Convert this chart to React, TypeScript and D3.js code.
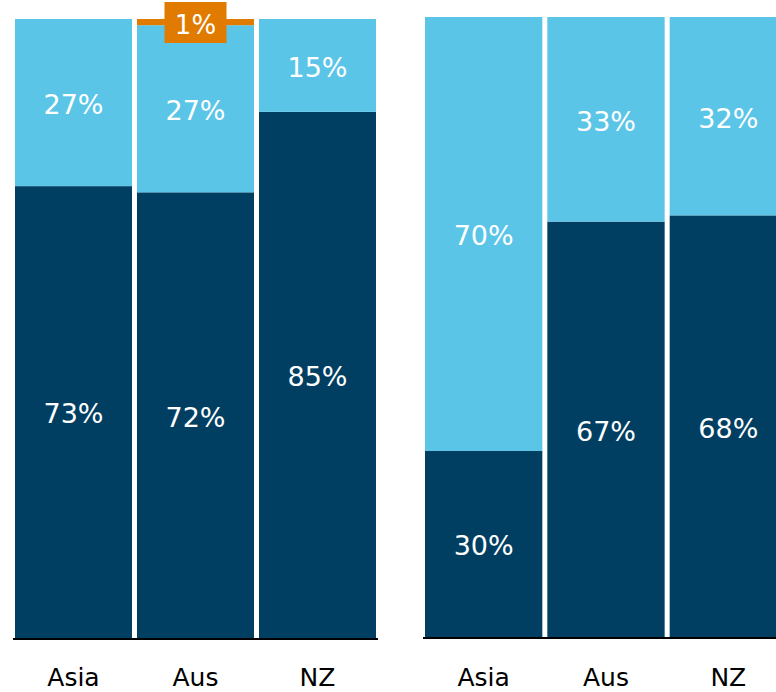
import * as d3 from "d3";

const categories = ["Asia", "Aus", "NZ"];
const leftDark = [73, 72, 85];
const leftLight = [27, 27, 15];
const leftOrange = [0, 1, 0];
const rightDark = [30, 67, 68];
const rightLight = [70, 33, 32];

const DARK = "#003F62";
const LIGHT = "#5BC5E8";
const ORANGE = "#E07B00";
const FONT = "'DejaVu Sans', Verdana, sans-serif";

type Seg = { key: string; color: string; values: number[] };

const Panel = ({ x0, x1, top, bottom, segs, axisX0, axisX1, showBox }: {
  x0: number; x1: number; top: number; bottom: number; segs: Seg[];
  axisX0: number; axisX1: number; showBox?: boolean;
}) => {
  const x = d3.scaleBand().domain(categories).range([x0, x1]).paddingInner(0.041);
  const y = d3.scaleLinear().domain([0, 100]).range([bottom, top]);

  const rows = categories.map((c, i) => {
    const r: any = { cat: c };
    segs.forEach((s) => (r[s.key] = s.values[i]));
    return r;
  });
  const stacked = d3.stack().keys(segs.map((s) => s.key))(rows);

  return (
    <g>
      {stacked.map((layer, li) => (
        <g key={layer.key}>
          {layer.map((d, i) => {
            const v = d[1] - d[0];
            if (v <= 0) return null;
            const bx = x(categories[i])!;
            const y0 = y(d[1]);
            const y1 = y(d[0]);
            const isOrange = segs[li].color === ORANGE;
            return (
              <g key={i}>
                <rect x={bx} y={y0} width={x.bandwidth()} height={y1 - y0} fill={segs[li].color} />
                {!isOrange && (
                  <text x={bx + x.bandwidth() / 2} y={(y0 + y1) / 2} dy="0.42em"
                    textAnchor="middle" fill="white" fontSize={27} fontFamily={FONT}>
                    {v}%
                  </text>
                )}
                {isOrange && showBox && (
                  <g>
                    <rect x={bx + x.bandwidth() / 2 - 31} y={2} width={62} height={41} fill={ORANGE} />
                    <text x={bx + x.bandwidth() / 2} y={24} dy="0.38em" textAnchor="middle"
                      fill="white" fontSize={26} fontFamily={FONT}>{v}%</text>
                  </g>
                )}
              </g>
            );
          })}
        </g>
      ))}
      <line x1={axisX0} x2={axisX1} y1={bottom + 1} y2={bottom + 1} stroke="#000" strokeWidth={2} />
      {categories.map((c) => (
        <text key={c} x={x(c)! + x.bandwidth() / 2} y={686} textAnchor="middle"
          fill="#000" fontSize={25} fontFamily={FONT}>{c}</text>
      ))}
    </g>
  );
};

const App = () => {
  return (
    <svg width={776} height={692} style={{ position: "absolute", left: 0, top: 0 }}>
      <rect width={776} height={692} fill="white" />
      <Panel x0={15} x1={376} top={19} bottom={638} axisX0={13} axisX1={378} showBox
        segs={[
          { key: "dark", color: DARK, values: leftDark },
          { key: "light", color: LIGHT, values: leftLight },
          { key: "orange", color: ORANGE, values: leftOrange },
        ]} />
      <Panel x0={425} x1={787} top={17} bottom={637} axisX0={423} axisX1={790}
        segs={[
          { key: "dark", color: DARK, values: rightDark },
          { key: "light", color: LIGHT, values: rightLight },
        ]} />
    </svg>
  );
};

export default App;
